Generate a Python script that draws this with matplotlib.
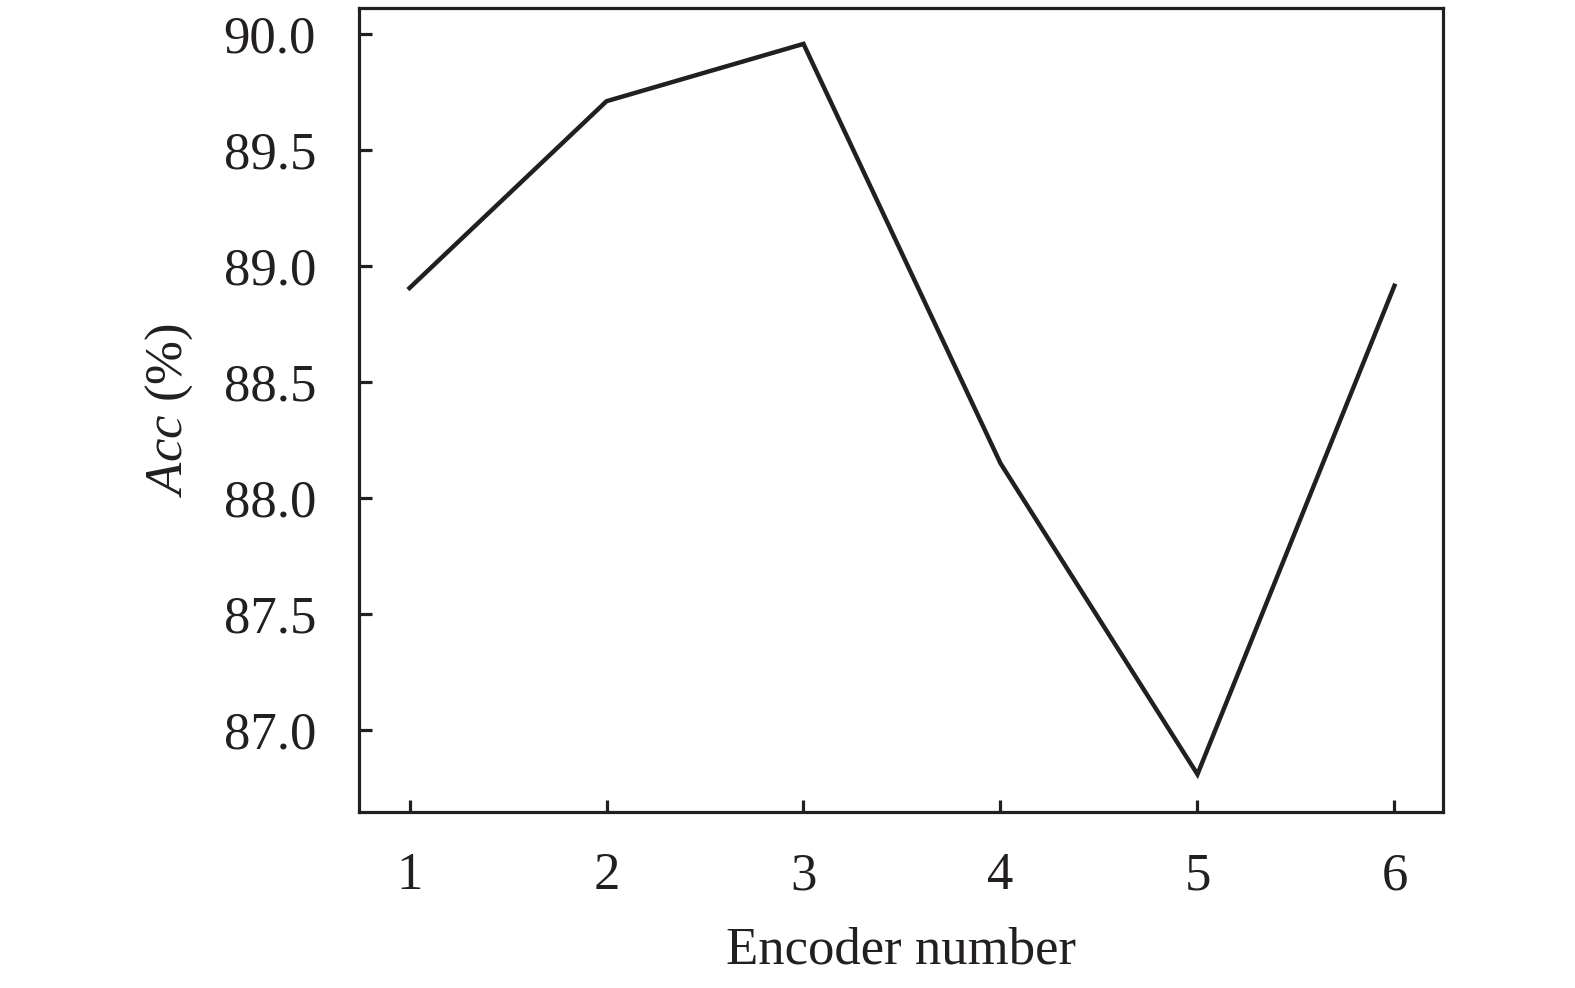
import matplotlib
matplotlib.use("Agg")
import matplotlib.pyplot as plt

encoder_numbers = [1, 2, 3, 4, 5, 6]
acc_values = [88.905, 89.71, 89.957, 88.15, 86.81, 88.915]
y_ticks = [87.0, 87.5, 88.0, 88.5, 89.0, 89.5, 90.0]

plt.rcParams['font.family'] = ['Liberation Serif', 'DejaVu Serif']
plt.rcParams['mathtext.fontset'] = 'custom'
plt.rcParams['mathtext.it'] = 'Liberation Serif:italic'
plt.rcParams['mathtext.rm'] = 'Liberation Serif'

fig = plt.figure(figsize=(15.75, 9.88), dpi=100)
ax = fig.add_axes([0.228, 0.178, 0.688, 0.814])
ax.plot(encoder_numbers, acc_values, color='#231f20', linewidth=3.2, solid_joinstyle='miter')
ax.set_xlim(0.744, 6.245)
ax.set_ylim(86.647, 90.112)
ax.set_xticks(encoder_numbers)
ax.set_yticks(y_ticks)
ax.set_yticklabels([f"{v:.1f}" for v in y_ticks])
for s in ax.spines.values():
    s.set_linewidth(2.3)
    s.set_color('#231f20')
ax.tick_params(direction='in', length=9, width=2.3, color='#231f20', labelsize=38,
               labelcolor='#231f20', top=False, right=False)
ax.tick_params(axis='y', pad=31)
ax.tick_params(axis='x', pad=29)
ax.set_xlabel('Encoder number', fontsize=38, color='#231f20', labelpad=19)
ax.set_ylabel(r'$\mathit{Acc}$ (%)', fontsize=38, color='#231f20', labelpad=21)
fig.savefig('out.png', dpi=100)
